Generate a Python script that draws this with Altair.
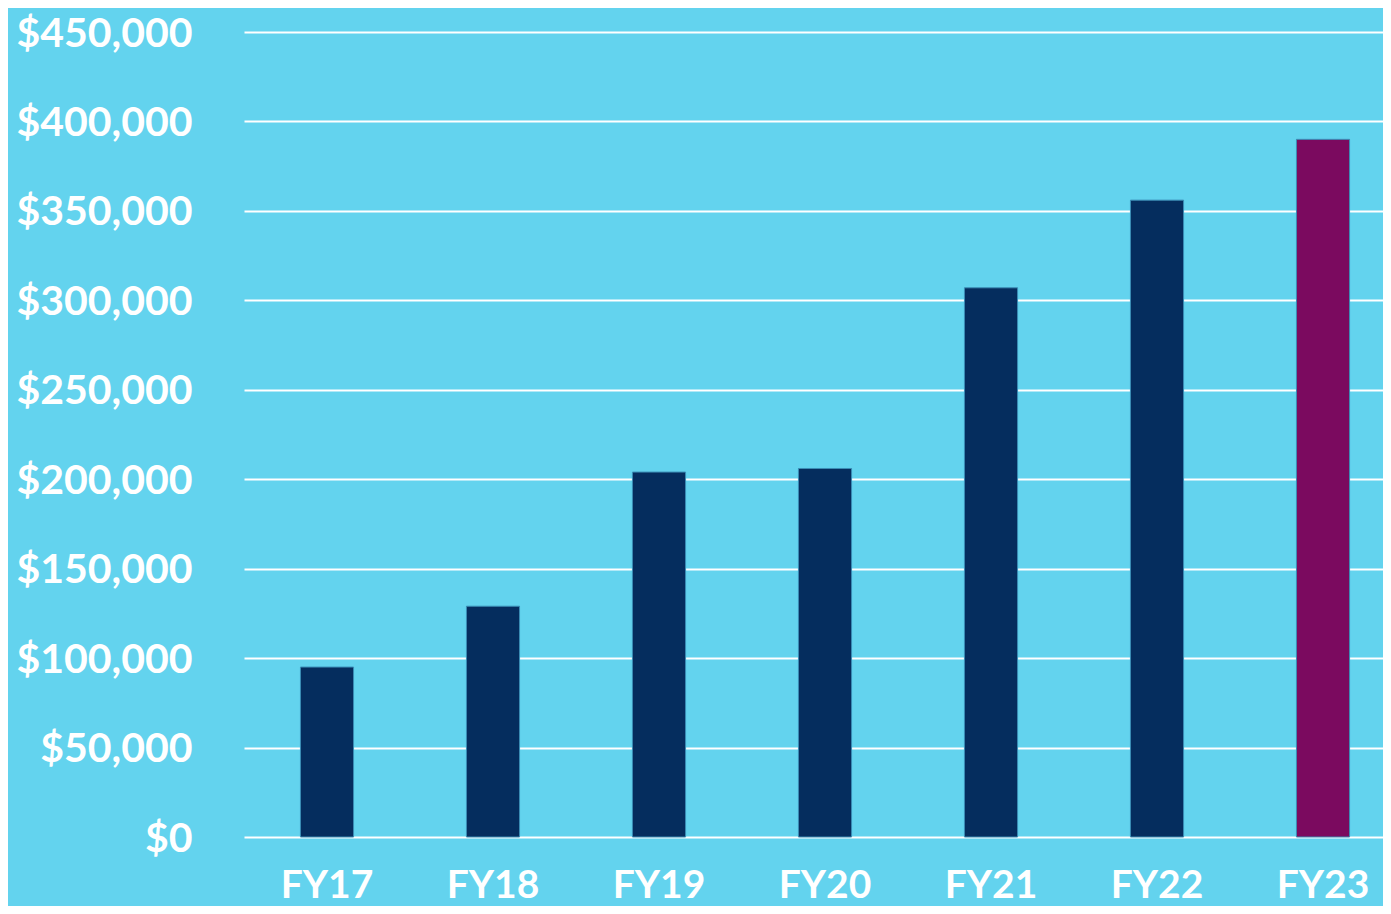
import altair as alt
import pandas as pd

years = ["FY17", "FY18", "FY19", "FY20", "FY21", "FY22", "FY23"]
amounts = [95000, 129000, 204000, 206000, 307000, 356000, 390000]
colors = ["#052D5E", "#052D5E", "#052D5E", "#052D5E", "#052D5E", "#052D5E", "#7B0A5F"]

df = pd.DataFrame({"year": years, "amount": amounts, "color": colors})

chart = alt.Chart(df).mark_bar(stroke="#3B8DB5", strokeWidth=1).encode(
    x=alt.X("year:N", sort=years,
            scale=alt.Scale(paddingInner=0.68, paddingOuter=0.2707, align=0.628),
            axis=alt.Axis(title=None, labelAngle=0, labelFontSize=39, labelFont="Lato",
                          labelFontWeight="bold", labelColor="white", labelPadding=29,
                          ticks=False, domain=False, grid=False)),
    y=alt.Y("amount:Q",
            scale=alt.Scale(domain=[0, 450000], nice=False),
            axis=alt.Axis(title=None, values=list(range(0, 450001, 50000)),
                          format="$,.0f", labelFontSize=41, labelFont="Lato",
                          labelFontWeight="bold", labelColor="white", labelPadding=52,
                          labelOffset=2,
                          ticks=False, domain=False, grid=True, gridColor="white",
                          gridWidth=2, gridOpacity=1)),
    color=alt.Color("color:N", scale=None, legend=None),
).properties(
    width=1139, height=805,
    background="#63D3EE",
    padding={"left": 236, "top": 24, "right": 0, "bottom": 69},
    autosize=alt.AutoSizeParams(type="none"),
).configure_view(stroke=None)

chart.save("out.html", embed_options={"renderer": "svg", "actions": False})
